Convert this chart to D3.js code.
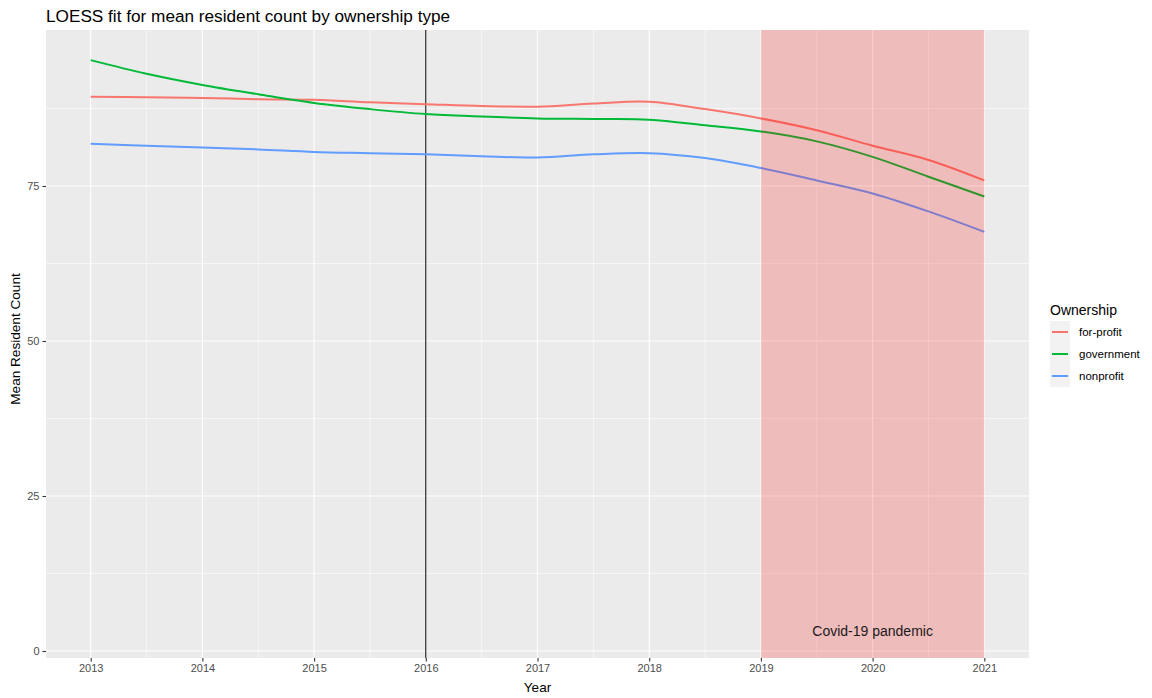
<!DOCTYPE html>
<html><head><meta charset="utf-8">
<script src="https://cdn.jsdelivr.net/npm/d3@7"></script>
<style>body{margin:0;background:#fff;} text{font-family:"Liberation Sans",Arial,sans-serif;}</style>
</head><body>
<svg id="chart" width="1152" height="698"></svg>
<script>
const years = [2013,2013.5,2014,2014.5,2015,2015.5,2016,2016.5,2017,2017.5,2018,2018.5,2019,2019.5,2020,2020.5,2021];
const forProfit  = [89.4,89.3,89.2,89.0,88.9,88.5,88.2,87.9,87.8,88.3,88.6,87.4,85.9,84.0,81.5,79.2,75.9];
const government = [95.3,93.1,91.3,89.8,88.4,87.4,86.6,86.2,85.9,85.8,85.7,84.8,83.8,82.2,79.7,76.5,73.3];
const nonprofit  = [81.8,81.5,81.2,80.9,80.5,80.3,80.1,79.8,79.6,80.1,80.3,79.5,77.9,75.9,73.8,70.9,67.6];
const seriesNames = ["for-profit","government","nonprofit"];
const seriesColors = ["#F8766D","#00BA38","#619CFF"];
const xTicks = [2013,2014,2015,2016,2017,2018,2019,2020,2021];
const yTicks = [0,25,50,75];
const vline = 2016;
const covid = [2019, 2021];
const covidLabel = "Covid-19 pandemic";
const covidLabelPos = [2020, 3.2];

const svg = d3.select("#chart");
const L = 46, R = 1029, T = 30, B = 658;
const x = d3.scaleLinear().domain([2012.6, 2021.4]).range([L, R]);
const y = d3.scaleLinear().domain([-1.13, 100.16]).range([B, T]);

svg.append("rect").attr("x",L).attr("y",T).attr("width",R-L).attr("height",B-T).attr("fill","#EBEBEB");
const g = svg.append("g");
const xMinor = xTicks.slice(0,-1).map(d=>d+0.5);
const yMinor = [12.5,37.5,62.5,87.5];
g.selectAll(".xm").data(xMinor).join("line").attr("x1",d=>x(d)).attr("x2",d=>x(d)).attr("y1",T).attr("y2",B).attr("stroke","#fff").attr("stroke-width",0.55);
g.selectAll(".ym").data(yMinor).join("line").attr("y1",d=>y(d)).attr("y2",d=>y(d)).attr("x1",L).attr("x2",R).attr("stroke","#fff").attr("stroke-width",0.55);
g.selectAll(".xg").data(xTicks).join("line").attr("x1",d=>x(d)).attr("x2",d=>x(d)).attr("y1",T).attr("y2",B).attr("stroke","#fff").attr("stroke-width",1.1);
g.selectAll(".yg").data(yTicks).join("line").attr("y1",d=>y(d)).attr("y2",d=>y(d)).attr("x1",L).attr("x2",R).attr("stroke","#fff").attr("stroke-width",1.1);

svg.append("line").attr("x1",x(vline)).attr("x2",x(vline)).attr("y1",T).attr("y2",B).attr("stroke","#000").attr("stroke-width",1);

const line = d3.line().x((d,i)=>x(years[i])).y(d=>y(d)).curve(d3.curveCatmullRom.alpha(0.5));
[forProfit, government, nonprofit].forEach((s,i)=>{
  svg.append("path").datum(s).attr("d",line).attr("fill","none").attr("stroke",seriesColors[i]).attr("stroke-width",2);
});

svg.append("rect").attr("x",x(covid[0])).attr("y",T).attr("width",x(covid[1])-x(covid[0])).attr("height",B-T).attr("fill","red").attr("fill-opacity",0.2);
svg.append("text").attr("x",x(covidLabelPos[0])).attr("y",y(covidLabelPos[1])).attr("dy","0.35em").attr("text-anchor","middle").attr("font-size",14).attr("fill","#1a1a1a").text(covidLabel);

const xa = svg.append("g").attr("transform",`translate(0,${B})`).call(d3.axisBottom(x).tickValues(xTicks).tickFormat(d3.format("d")).tickSize(3.5).tickPadding(3));
const ya = svg.append("g").attr("transform",`translate(${L},0)`).call(d3.axisLeft(y).tickValues(yTicks).tickSize(3.5).tickPadding(3));
[xa,ya].forEach(a=>{
  a.select(".domain").remove();
  a.selectAll(".tick line").attr("stroke","#333").attr("stroke-width",1.1);
  a.selectAll(".tick text").attr("fill","#4D4D4D").attr("font-size",11).attr("font-family","Liberation Sans, Arial, sans-serif");
});

svg.append("text").attr("x",L).attr("y",22).attr("font-size",17.2).attr("fill","#000").text("LOESS fit for mean resident count by ownership type");
svg.append("text").attr("x",(L+R)/2).attr("y",692).attr("text-anchor","middle").attr("font-size",13.5).attr("fill","#000").text("Year");
svg.append("text").attr("transform",`translate(20,339) rotate(-90)`).attr("text-anchor","middle").attr("font-size",13.6).attr("fill","#000").text("Mean Resident Count");

const lg = svg.append("g").attr("transform","translate(1050,0)");
lg.append("text").attr("x",0).attr("y",315).attr("font-size",14).attr("fill","#000").text("Ownership");
seriesNames.forEach((n,i)=>{
  const yy = 321 + i*22;
  lg.append("rect").attr("x",0).attr("y",yy).attr("width",20).attr("height",22).attr("fill","#F2F2F2");
  lg.append("line").attr("x1",2).attr("x2",18).attr("y1",yy+11).attr("y2",yy+11).attr("stroke",seriesColors[i]).attr("stroke-width",2);
  lg.append("text").attr("x",29).attr("y",yy+11).attr("dy","0.35em").attr("font-size",11.5).attr("fill","#000").text(n);
});
</script>
</body></html>
